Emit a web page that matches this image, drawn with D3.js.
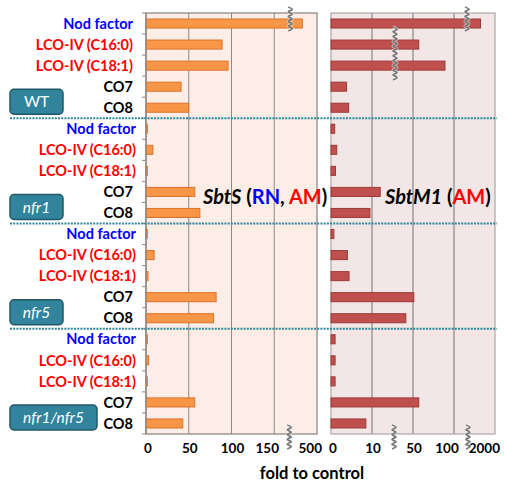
<!DOCTYPE html>
<html><head><meta charset="utf-8">
<script src="https://cdn.jsdelivr.net/npm/d3@7/dist/d3.min.js"></script>
<style>
html,body{margin:0;padding:0;background:#fff;}
svg{display:block;font-family:Lato,"Open Sans",sans-serif;}
</style></head>
<body><svg id="c" width="507" height="484"></svg>
<script>
// ---- data ----
const treatments = ["Nod factor", "LCO-IV (C16:0)", "LCO-IV (C18:1)", "CO7", "CO8"];
const genotypes = ["WT", "nfr1", "nfr5", "nfr1/nfr5"];
// fold to control, rows = genotypes, columns = treatments
const sbtS = [
  [380, 89, 96, 41, 50],
  [1.5, 8, 1.5, 57, 63],
  [1.5, 9.5, 2.3, 82, 79],
  [1.5, 3, 1.5, 57, 43]
];
const sbtM1 = [
  [1330, 57, 89, 3.8, 4.3],
  [0.9, 1.4, 1.1, 18, 9.5],
  [0.7, 4.0, 4.4, 51, 43],
  [1.0, 1.0, 1.0, 57, 8.5]
];
const sbtSTicks = [0, 50, 100, 150, 500];
const sbtM1Ticks = [0, 10, 50, 100, 2000];

// ---- styles ----
const treatmentColors = ["#0000ff", "#ff0000", "#ff0000", "#000000", "#000000"];

const svg = d3.select("#c");
const top0 = 13, bot0 = 434;
const rows = [];
genotypes.forEach((g, gi) => treatments.forEach((t, ti) => rows.push({g, gi, t, ti, key: gi + "-" + ti})));
const y = d3.scaleBand().domain(rows.map(r => r.key)).range([top0, bot0]).paddingInner(0.57).paddingOuter(0.285);
const step = y.step();

function evenRange(ticks, a, b) { return ticks.map((d, i) => a + i * (b - a) / (ticks.length - 1)); }
const xS = d3.scaleLinear().domain(sbtSTicks).range(evenRange(sbtSTicks, 146, 317));
const xM = d3.scaleLinear().domain(sbtM1Ticks).range(evenRange(sbtM1Ticks, 331, 495));

const panels = [
  {x: xS, ticks: sbtSTicks, data: sbtS, bg: "#fcede6", grid: "#8e8a88", gridW: 1, border: "#8e8a88",
   fill: "#f79646", stroke: "#e0712a"},
  {x: xM, ticks: sbtM1Ticks, data: sbtM1, bg: "#f2e6e6", grid: "#b3adad", gridW: 2, border: "#b3adad",
   fill: "#c0504d", stroke: "#9a3b38"}
];

panels.forEach(p => {
  const rg = p.x.range();
  const a = rg[0], b = rg[rg.length - 1];
  const g = svg.append("g");
  g.append("rect").attr("x", a).attr("y", top0).attr("width", b - a).attr("height", bot0 - top0)
    .attr("fill", p.bg);
  g.selectAll("line.grid").data(p.ticks.slice(1, -1)).join("line")
    .attr("x1", d => p.x(d)).attr("x2", d => p.x(d)).attr("y1", top0).attr("y2", bot0)
    .attr("stroke", p.grid).attr("stroke-width", p.gridW);
  g.append("rect").attr("x", a).attr("y", top0).attr("width", b - a).attr("height", bot0 - top0)
    .attr("fill", "none").attr("stroke", p.border).attr("stroke-width", 1.3);
  // bars
  const bars = [];
  p.data.forEach((vals, gi) => vals.forEach((v, ti) => bars.push({key: gi + "-" + ti, v})));
  g.selectAll("rect.bar").data(bars).join("rect").attr("class", "bar")
    .attr("x", p.x(0)).attr("y", d => y(d.key))
    .attr("width", d => Math.max(0.8, p.x(d.v) - p.x(0))).attr("height", y.bandwidth())
    .attr("fill", p.fill).attr("stroke", p.stroke).attr("stroke-width", 1);
  // tick labels
  const n = p.ticks.length;
  g.selectAll("text.tl").data(p.ticks).join("text")
    .attr("x", (d, i) => i === n - 1 ? p.x(d) + 5 : p.x(d) + (i === 0 ? 2 : i === n - 2 ? -7 : 1))
    .attr("y", 453)
    .attr("text-anchor", (d, i) => i === n - 1 ? "end" : "middle")
    .attr("font-size", 13.5).attr("font-weight", "bold").attr("fill", "#000")
    .text(d => d);
});

// left axis line and ticks
svg.append("line").attr("x1", 146).attr("x2", 146).attr("y1", top0).attr("y2", bot0)
  .attr("stroke", "#8e8a88").attr("stroke-width", 1.3);
svg.selectAll("line.ytick").data(d3.range(rows.length + 1)).join("line")
  .attr("x1", 142).attr("x2", 146)
  .attr("y1", i => top0 + i * step).attr("y2", i => top0 + i * step)
  .attr("stroke", "#8e8a88").attr("stroke-width", 1);

// group separators
svg.selectAll("line.sep").data(genotypes.slice(1)).join("line")
  .attr("x1", 10).attr("x2", 497)
  .attr("y1", (d, i) => top0 + (i + 1) * 5 * step).attr("y2", (d, i) => top0 + (i + 1) * 5 * step)
  .attr("stroke", "#31859c").attr("stroke-width", 2).attr("stroke-dasharray", "2,1.2");

// category labels
svg.selectAll("text.cat").data(rows).join("text")
  .attr("x", d => (d.gi > 0 && d.ti < 3) ? 136 : 133)
  .attr("y", d => y(d.key) + y.bandwidth() / 2).attr("dy", "0.36em")
  .attr("text-anchor", "end").attr("font-size", 14.5).attr("font-weight", "bold")
  .attr("fill", d => treatmentColors[d.ti]).text(d => d.t);

// genotype boxes
const boxes = svg.selectAll("g.box").data(genotypes).join("g");
boxes.append("rect")
  .attr("x", 10).attr("y", (d, i) => top0 + (i + 1) * 5 * step - 29)
  .attr("width", d => d.length > 5 ? 87 : 53).attr("height", 25).attr("rx", 4)
  .attr("fill", "#31849b").attr("stroke", "#205867").attr("stroke-width", 1.5);
boxes.append("text")
  .attr("x", d => 10 + (d.length > 5 ? 87 : 53) / 2)
  .attr("y", (d, i) => top0 + (i + 1) * 5 * step - 16.5).attr("dy", "0.36em")
  .attr("text-anchor", "middle").attr("font-size", 15.5).attr("fill", "#fff")
  .attr("font-style", d => d === "WT" ? "normal" : "italic").text(d => d);

// break marks
function squiggle(x, y0, y1) {
  const pts = [];
  let k = 0;
  for (let yy = y0; yy <= y1; yy += 2.4, k++) pts.push([x + (k % 2 ? 2 : -2), yy]);
  svg.append("path").attr("d", d3.line().curve(d3.curveCatmullRom)(pts))
    .attr("fill", "none").attr("stroke", "#fff").attr("stroke-width", 3.2).attr("opacity", 0.6);
  svg.append("path").attr("d", d3.line().curve(d3.curveCatmullRom)(pts))
    .attr("fill", "none").attr("stroke", "#7a7a7a").attr("stroke-width", 1.8);
}
squiggle(xS(150) + 16, 7, 33);
squiggle(xM(100) + 13, 7, 33);
squiggle(xM(10) + 23, 27, 81);
squiggle(xS(150) + 15, 425, 449);
squiggle(xM(10) + 22, 425, 449);
squiggle(xM(100) + 14, 425, 449);

// axis title
svg.append("text").attr("x", 312).attr("y", 479).attr("text-anchor", "middle")
  .attr("font-size", 16.5).attr("font-weight", "bold").text("fold to control");

// panel titles
const tb = y("1-3") + y.bandwidth() / 2 + 12;
const t1 = svg.append("text").attr("x", 203).attr("y", tb).attr("font-size", 20).attr("font-weight", "bold");
t1.append("tspan").attr("font-style", "italic").text("SbtS");
t1.append("tspan").text(" (");
t1.append("tspan").attr("fill", "#0000ff").text("RN");
t1.append("tspan").text(", ");
t1.append("tspan").attr("fill", "#ff0000").text("AM");
t1.append("tspan").text(")");
const t2 = svg.append("text").attr("x", 385).attr("y", tb).attr("font-size", 20).attr("font-weight", "bold");
t2.append("tspan").attr("font-style", "italic").text("SbtM1");
t2.append("tspan").text(" (");
t2.append("tspan").attr("fill", "#ff0000").text("AM");
t2.append("tspan").text(")");
</script></body></html>
